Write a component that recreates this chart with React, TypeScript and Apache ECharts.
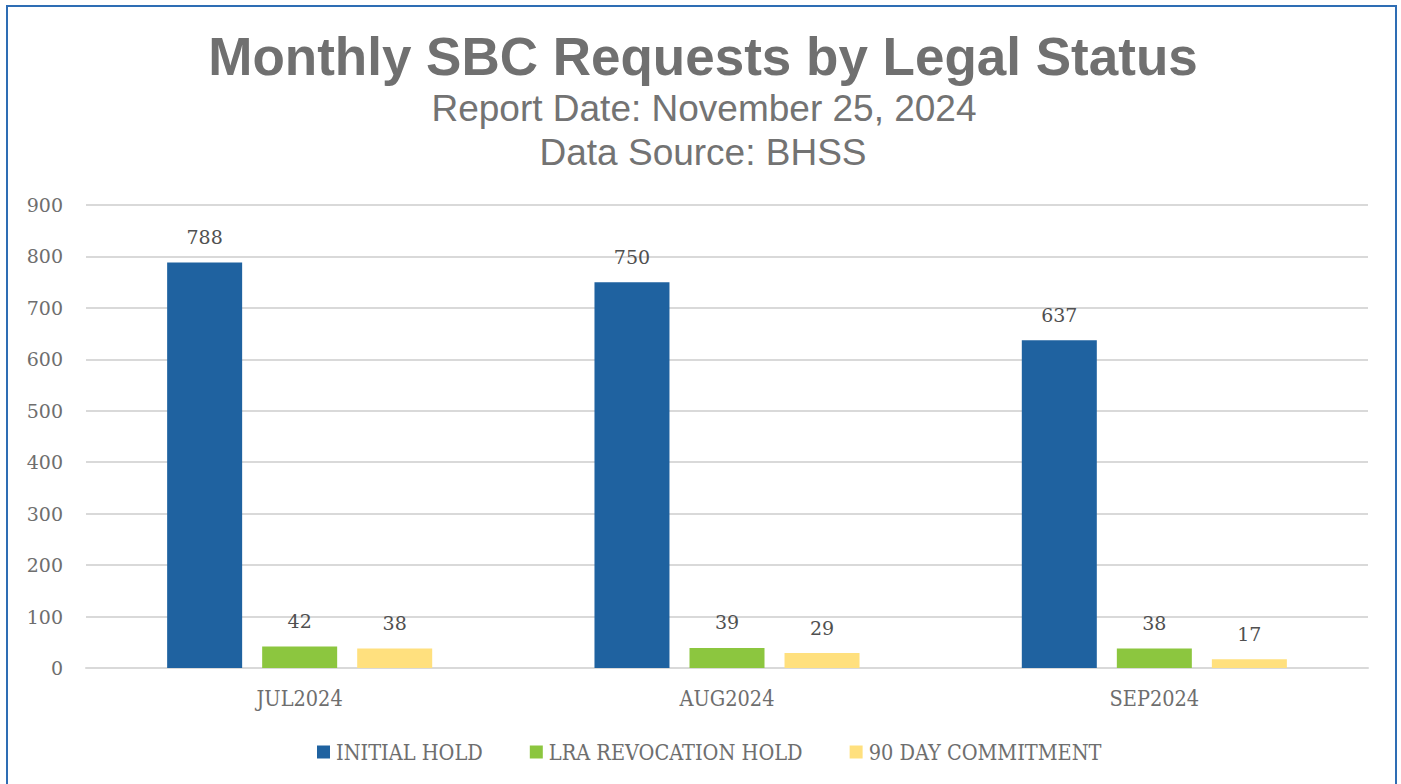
import React, { useEffect, useRef } from "react";
import * as echarts from "echarts";

const categories = ["JUL2024", "AUG2024", "SEP2024"];
const initialHold = [788, 750, 637];
const lraRevocationHold = [42, 39, 38];
const ninetyDayCommitment = [38, 29, 17];
const seriesNames = ["INITIAL HOLD", "LRA REVOCATION HOLD", "90 DAY COMMITMENT"];
const yTicks = { min: 0, max: 900, interval: 100 };
const titleText = "Monthly SBC Requests by Legal Status";
const subtitleLines = ["Report Date: November 25, 2024", "Data Source: BHSS"];

const SERIF = "DejaVu Serif";
const SERIF_COND = "'DejaVu Serif Condensed', 'DejaVu Serif'";
const SANS = "Liberation Sans, Arial, sans-serif";

export default function App() {
  const ref = useRef<HTMLDivElement>(null);
  useEffect(() => {
    if (!ref.current) return;
    const chart = echarts.init(ref.current, undefined, { renderer: "svg" });
    const colors = ["#1F62A0", "#8CC63F", "#FFE07E"];
    const dataSets = [initialHold, lraRevocationHold, ninetyDayCommitment];
    chart.setOption({
      animation: false,
      backgroundColor: "#ffffff",
      graphic: [
        {
          type: "rect",
          shape: { x: 7, y: 6, width: 1389, height: 800 },
          style: { fill: "none", stroke: "#2E6DB4", lineWidth: 2 },
          silent: true,
        },
        {
          type: "text",
          x: 703,
          y: 56,
          style: {
            text: titleText,
            font: `bold 53px ${SANS}`,
            fill: "#707070",
            textAlign: "center",
            textVerticalAlign: "middle",
          },
        },
        {
          type: "text",
          x: 704,
          y: 108,
          style: {
            text: subtitleLines[0],
            font: `37px ${SANS}`,
            fill: "#737373",
            textAlign: "center",
            textVerticalAlign: "middle",
          },
        },
        {
          type: "text",
          x: 703,
          y: 152,
          style: {
            text: subtitleLines[1],
            font: `37px ${SANS}`,
            fill: "#737373",
            textAlign: "center",
            textVerticalAlign: "middle",
          },
        },
      ],
      grid: { left: 86, right: 33, top: 205, bottom: 116, containLabel: false },
      legend: {
        data: seriesNames,
        left: 312,
        top: 736,
        itemWidth: 13,
        itemHeight: 13,
        itemGap: 47,
        icon: "rect",
        textStyle: { fontFamily: SERIF_COND, fontSize: 21.5, color: "#6E6E6E", padding: [0, 0, 0, 1] },
      },
      xAxis: {
        type: "category",
        data: categories,
        axisLine: { show: true, lineStyle: { color: "#D9D9D9", width: 2 } },
        axisTick: { show: false },
        axisLabel: { fontFamily: SERIF_COND, fontSize: 21.5, color: "#6E6E6E", margin: 19 },
      },
      yAxis: {
        type: "value",
        min: yTicks.min,
        max: yTicks.max,
        interval: yTicks.interval,
        axisLine: { show: false },
        axisTick: { show: false },
        splitLine: { lineStyle: { color: "#D9D9D9", width: 2 } },
        axisLabel: { fontFamily: SERIF, fontSize: 19, color: "#6E6E6E", margin: 23 },
      },
      series: seriesNames.map((name, i) => ({
        name,
        type: "bar",
        data: dataSets[i],
        barWidth: 75,
        barGap: "26.7%",
        itemStyle: { color: colors[i] },
        label: {
          show: true,
          position: "top",
          distance: 16,
          fontFamily: SERIF,
          fontSize: 19,
          color: "#505050",
        },
      })),
    });
    return () => chart.dispose();
  }, []);
  return (
    <div
      ref={ref}
      style={{ position: "fixed", left: 0, top: 0, width: 1401, height: 784 }}
    />
  );
}
